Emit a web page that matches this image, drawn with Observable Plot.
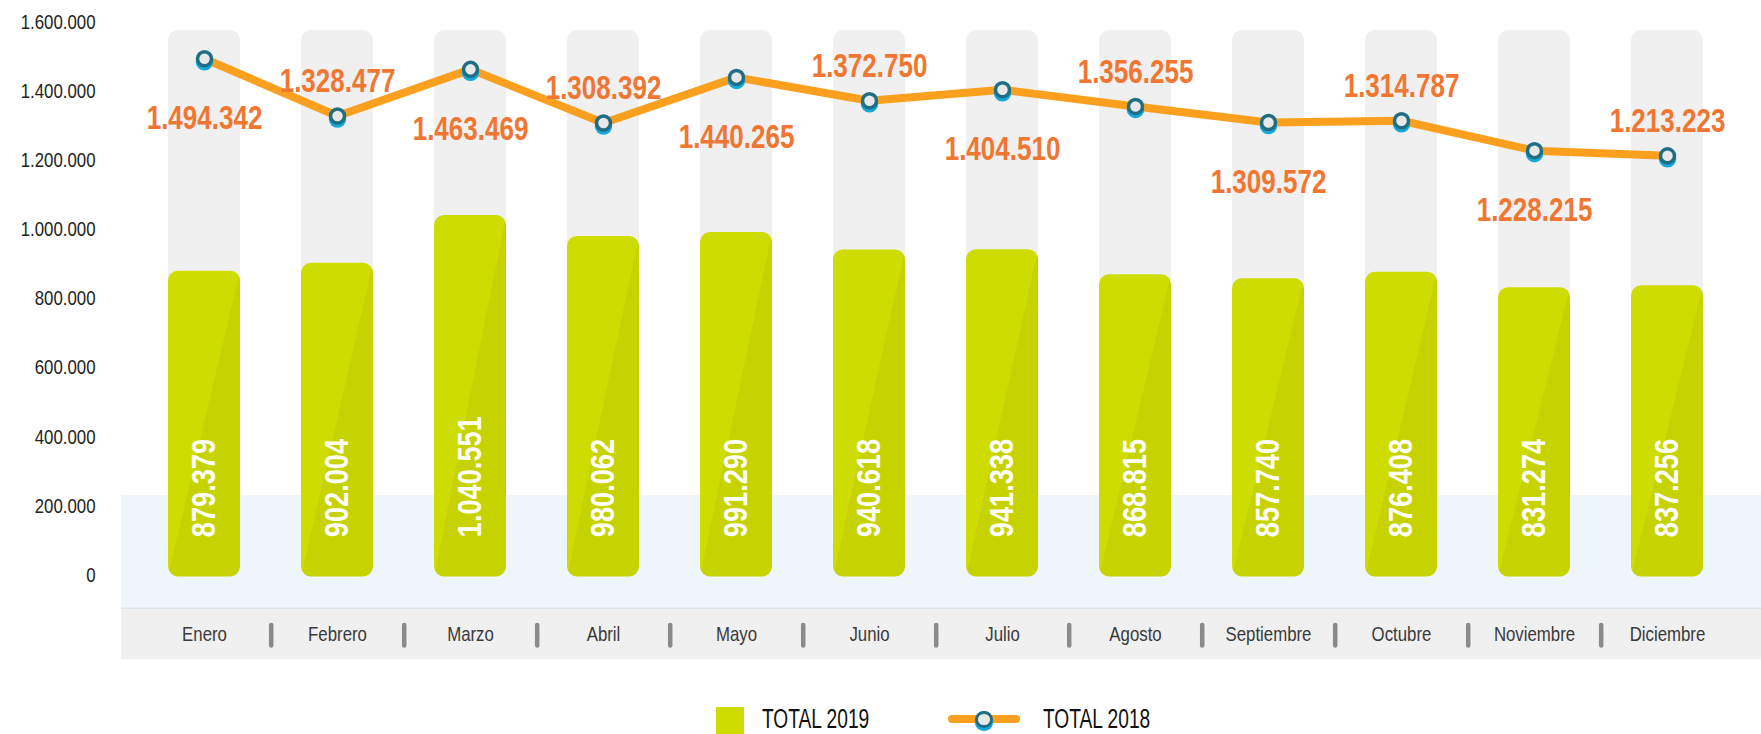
<!DOCTYPE html>
<html>
<head>
<meta charset="utf-8">
<script src="https://cdn.jsdelivr.net/npm/d3@7"></script>
<script src="https://cdn.jsdelivr.net/npm/@observablehq/plot@0.6"></script>
<style>
  html, body { margin: 0; padding: 0; background: #fff; }
  #wrap { position: relative; width: 1761px; height: 734px; overflow: hidden; background: #fff; }
  #legend { position: absolute; left: 0; top: 700px; width: 1761px; height: 34px; }
  .lg { position: absolute; }
  .lgtext {
    font-family: "Liberation Sans", Arial, sans-serif;
    font-size: 27px; line-height: 27px; color: #111; white-space: nowrap;
    transform: scaleX(0.71); transform-origin: 0 0;
  }
</style>
</head>
<body>
<div id="wrap">
  <div id="chart"></div>
  <div id="legend"></div>
</div>
<script>
// ---- data ----
const months = ["Enero", "Febrero", "Marzo", "Abril", "Mayo", "Junio", "Julio", "Agosto", "Septiembre", "Octubre", "Noviembre", "Diciembre"];
const total2019 = [879379, 902004, 1040551, 980062, 991290, 940618, 941338, 868815, 857740, 876408, 831274, 837256];
const total2018 = [1494342, 1328477, 1463469, 1308392, 1440265, 1372750, 1404510, 1356255, 1309572, 1314787, 1228215, 1213223];
const yTicks = [0, 200000, 400000, 600000, 800000, 1000000, 1200000, 1400000, 1600000];
const seriesNames = ["TOTAL 2019", "TOTAL 2018"];

// ---- layout ----
const W = 1761, H = 700;
const mTop = 21.7, mBottom = 125.5, mLeft = 135, mRight = 25;
const baseY = H - mBottom;                 // pixel of value 0
const PX = 1600000 / (baseY - mTop);       // value units per pixel
const offBelow = px => -px * PX;           // value located px pixels below the baseline
const offAbove = px => px * PX;            // value located px pixels above the baseline
const blueTop = offAbove(79.5);
const greyTop = offBelow(33.2);
const greyBottom = offBelow(84.8);
const monthY = offBelow(59.5);
const sepTop = offBelow(50.5), sepBottom = offBelow(71);
const columnTop = offAbove(544.5);
const step = (W - mLeft - mRight) / months.length;

const font = '"Liberation Sans",Arial,sans-serif';
const fmt = d => d3.format(",")(d).replace(/,/g, ".");

const C = {
  barLight: "#CFDC00", barDark: "#C6D300", column: "#F0F0F0",
  blue: "#EEF6FC", grey: "#F0F0F0", line: "#FAA01E", label: "#F07632",
  ring: "#1F6E84", shadow: "#17A8DA", dotFill: "#E8E8E8", sep: "#8A8A8A"
};

const rows = months.map((m, i) => ({month: m, v19: total2019[i], v18: total2018[i], i}));

const plot = Plot.plot({
  width: W, height: H,
  marginTop: mTop, marginBottom: mBottom, marginLeft: mLeft, marginRight: mRight,
  style: {fontFamily: font, fontSize: "21px", color: "#222", background: "white", overflow: "visible"},
  x: {type: "band", domain: months, paddingInner: 0.46, paddingOuter: 0.23, axis: null},
  y: {domain: [0, 1600000], ticks: yTicks, tickFormat: fmt, tickSize: 0, tickPadding: 40, label: null},
  marks: [
    Plot.rect([0], {y1: blueTop, y2: greyTop, fill: C.blue, insetLeft: -14, insetRight: -25}),
    Plot.rect([0], {y1: greyTop, y2: greyBottom, fill: C.grey, insetLeft: -14, insetRight: -25}),
    Plot.ruleY([greyTop], {stroke: "#DCE5EC", strokeWidth: 1.5, insetLeft: -14, insetRight: -25}),
    Plot.barY(rows, {x: "month", y1: 0, y2: columnTop, fill: C.column, rx: 10}),
    Plot.barY(rows, {x: "month", y: "v19", fill: "url(#barGrad)", rx: 10, insetBottom: -2}),
    Plot.text(rows, {x: "month", y: 0, dy: -37.8, text: d => fmt(d.v19), rotate: -90, textAnchor: "start",
      lineAnchor: "middle", fill: "white", fontSize: 34, fontWeight: "bold", fontFamily: font}),
    Plot.line(rows, {x: "month", y: "v18", stroke: C.line, strokeWidth: 8, strokeLinejoin: "round", strokeLinecap: "round"}),
    Plot.dot(rows, {x: "month", y: "v18", r: 8.75, fill: C.shadow, dy: 3}),
    Plot.dot(rows, {x: "month", y: "v18", r: 7, fill: C.dotFill, stroke: C.ring, strokeWidth: 3.5}),
    Plot.text(rows.filter(d => d.i % 2 === 0), {x: "month", y: "v18", dy: 60, text: d => fmt(d.v18),
      fill: C.label, fontSize: 32.5, fontWeight: "bold", fontFamily: font}),
    Plot.text(rows.filter(d => d.i % 2 === 1), {x: "month", y: "v18", dy: -34, text: d => fmt(d.v18),
      fill: C.label, fontSize: 32.5, fontWeight: "bold", fontFamily: font}),
    Plot.text(rows, {x: "month", y: monthY, text: "month", fontSize: 21, fill: "#3a3a3a", fontFamily: font}),
    Plot.ruleX(months.slice(0, -1), {x: d => d, y1: sepTop, y2: sepBottom, dx: step / 2,
      stroke: C.sep, strokeWidth: 4.5, strokeLinecap: "round"})
  ]
});

// gradient for the two-tone bars
const ns = "http://www.w3.org/2000/svg";
const defs = document.createElementNS(ns, "defs");
const grad = document.createElementNS(ns, "linearGradient");
grad.setAttribute("id", "barGrad");
grad.setAttribute("x1", "0"); grad.setAttribute("y1", "0");
grad.setAttribute("x2", "1"); grad.setAttribute("y2", "1");
[[0.5, C.barLight], [0.5, C.barDark]].forEach(([o, c]) => {
  const s = document.createElementNS(ns, "stop");
  s.setAttribute("offset", o); s.setAttribute("stop-color", c);
  grad.appendChild(s);
});
defs.appendChild(grad);
plot.insertBefore(defs, plot.firstChild);
document.getElementById("chart").appendChild(plot);

// condensed lettering (the original uses a condensed typeface)
plot.querySelectorAll("text").forEach(t => {
  const len = t.getComputedTextLength();
  if (len > 0) {
    t.setAttribute("textLength", (len * 0.8).toFixed(2));
    t.setAttribute("lengthAdjust", "spacingAndGlyphs");
  }
});

// ---- legend (HTML below the SVG) ----
const lg = document.getElementById("legend");
function el(style, cls, text) {
  const d = document.createElement("div");
  d.className = "lg" + (cls ? " " + cls : "");
  Object.assign(d.style, style);
  if (text) d.textContent = text;
  lg.appendChild(d);
  return d;
}
el({left: "716px", top: "6.7px", width: "28px", height: "28px", background: C.barLight});
el({left: "761.7px", top: "5.5px"}, "lgtext", seriesNames[0]);
el({left: "948px", top: "15.3px", width: "72px", height: "8px", borderRadius: "4px", background: C.line});
el({left: "975.25px", top: "13.5px", width: "17.5px", height: "17.5px", borderRadius: "50%", background: C.shadow});
el({left: "975.25px", top: "10.5px", width: "17.5px", height: "17.5px", borderRadius: "50%", boxSizing: "border-box",
    border: "3.5px solid " + C.ring, background: C.dotFill});
el({left: "1043.3px", top: "5.5px"}, "lgtext", seriesNames[1]);
</script>
</body>
</html>
